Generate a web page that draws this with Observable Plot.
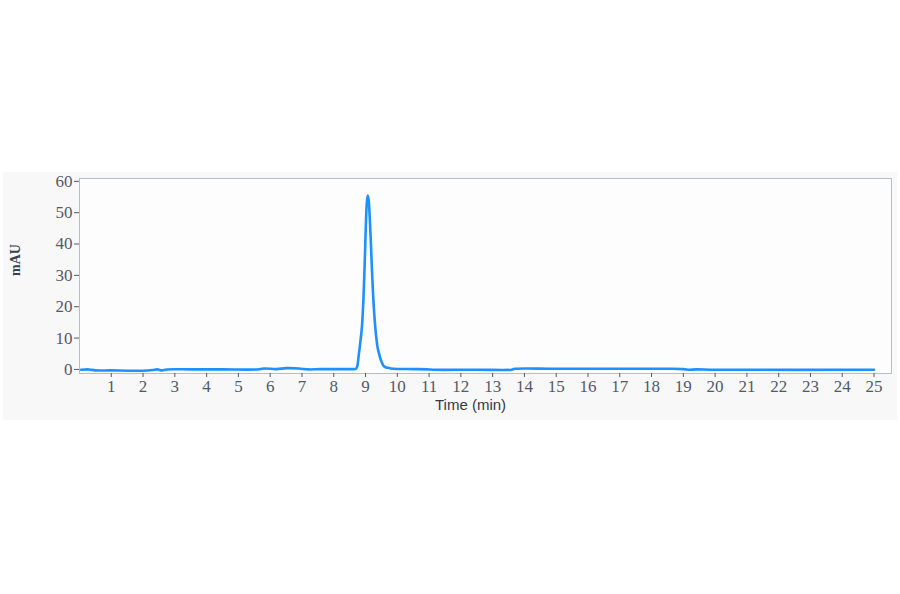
<!DOCTYPE html>
<html>
<head>
<meta charset="utf-8">
<script src="https://cdn.jsdelivr.net/npm/d3@7"></script>
<script src="https://cdn.jsdelivr.net/npm/@observablehq/plot@0.6"></script>
<style>
  html, body { margin: 0; padding: 0; background: #ffffff; }
  #wrap { position: relative; width: 900px; height: 594px; overflow: hidden; }
  #band { position: absolute; left: 3px; top: 172px; width: 894px; height: 248px; background: #f8f8f8; }
  #chart { position: absolute; left: 0; top: 0; }
</style>
</head>
<body>
<div id="wrap"><div id="band"></div><div id="chart"></div></div>
<script>
// Retention time (min)
const times = [
  0.05, 0.3, 0.5, 1.0, 1.5, 2.0, 2.3, 2.45, 2.6, 2.75, 3.5, 4.5, 5.6, 5.8, 6.2, 6.5, 6.9, 7.2, 7.6, 8.2, 8.6,
  8.70, 8.74, 8.78, 8.84, 8.89, 8.94, 8.98, 9.01, 9.04, 9.07, 9.10, 9.13, 9.17, 9.21, 9.26, 9.32, 9.38, 9.44, 9.50, 9.58, 9.70, 9.80,
  10.0, 10.5, 11.0, 11.1, 12.5, 13.6, 13.7, 15.0, 17.0, 18.6, 19.0, 19.2, 19.4, 20.0, 25.0
];
// Absorbance (mAU)
const values = [
  -0.1, 0.0, -0.3, -0.3, -0.4, -0.4, -0.2, 0.0, -0.3, 0.0, 0.0, 0.0, 0.0, 0.3, 0.1, 0.4, 0.3, 0.0, 0.1, 0.1, 0.1,
  0.2, 1.0, 4.0, 9.0, 14.0, 24.0, 36.0, 46.0, 53.0, 55.5, 54.0, 49.0, 40.0, 30.0, 20.0, 12.0, 7.0, 4.5, 2.5, 1.0, 0.5, 0.3,
  0.15, 0.1, 0.0, -0.1, -0.1, -0.1, 0.2, 0.2, 0.2, 0.2, 0.1, -0.1, 0.0, -0.1, -0.1
];
const xTicks = d3.range(1, 26);
const yTicks = [0, 10, 20, 30, 40, 50, 60];
const xLabel = "Time (min)";
const yLabel = "mAU";

const data = times.map((t, i) => ({t, v: values[i]}));
const tickColor = "#525a6a";

const chart = Plot.plot({
  width: 900,
  height: 594,
  marginTop: 178,
  marginBottom: 221,
  marginLeft: 79,
  marginRight: 9,
  style: {background: "transparent", fontFamily: "'Liberation Serif', serif", fontSize: "17px"},
  x: {domain: [0, 25.55]},
  y: {domain: [-1.3, 60.9]},
  marks: [
    Plot.frame({fill: "#fdfdfd", stroke: "#b9bdc5", strokeWidth: 1}),
    Plot.axisX(xTicks, {tickSize: 4, tickPadding: 2, color: tickColor, label: null, fontSize: 17}),
    Plot.axisY(yTicks, {tickSize: 5, tickPadding: 2, color: tickColor, label: null, fontSize: 17}),
    Plot.line(data, {x: "t", y: "v", stroke: "#1e90ff", strokeWidth: 2.6, curve: "catmull-rom"}),
    Plot.text([xLabel], {frameAnchor: "bottom", dx: -15, dy: 36, text: d => d, fontFamily: "'Liberation Sans', Arial, sans-serif", fontSize: 15, fill: "#333b4a"}),
    Plot.text([yLabel], {frameAnchor: "left", dx: -64, rotate: -90, text: d => d, fontFamily: "'Liberation Serif', serif", fontWeight: "bold", fontSize: 14, fill: "#3a4050"})
  ]
});
document.getElementById("chart").appendChild(chart);
</script>
</body>
</html>
